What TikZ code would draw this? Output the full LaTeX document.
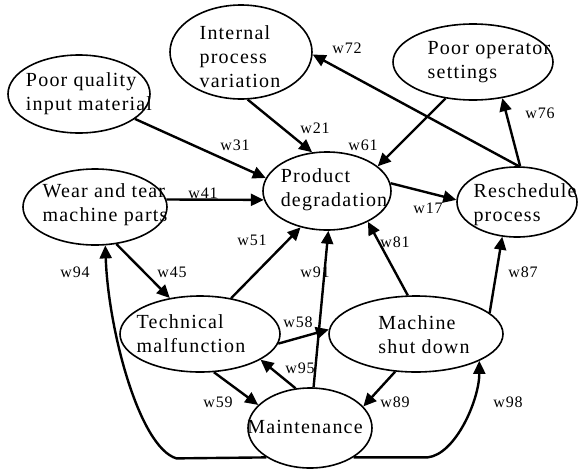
\documentclass[tikz,border=0pt]{standalone}
\usepackage{fontspec}
\setmainfont{Liberation Serif}
\newfontfamily\widefont{Liberation Serif}[LetterSpace=6]
\usepackage{tikz}
\usetikzlibrary{arrows.meta}
\usetikzlibrary{shapes.geometric}

\begin{document}
\begin{tikzpicture}[x=1pt,y=-1pt]
\tikzstyle{blob}=[ellipse, draw, line width=1.6pt, inner sep=0pt]
\tikzstyle{txt}=[align=left, inner sep=0pt, font=\widefont\fontsize{20}{24}\selectfont]
\tikzstyle{wlab}=[inner sep=0pt, font=\widefont\fontsize{16}{18}\selectfont]
\tikzstyle{arr}=[line width=2.4pt, -{Triangle[length=13pt,width=12pt]}]
\useasboundingbox (0,0) rectangle (578,469);

 \node[blob, minimum width=142, minimum height=94] (ipv) at (241,52) {};
 \node[blob, minimum width=142, minimum height=78] (pq) at (79,94) {};
 \node[blob, minimum width=144, minimum height=76] (wt) at (95,207) {};
 \node[blob, minimum width=128, minimum height=78] (pd) at (327,191) {};
 \node[blob, minimum width=160, minimum height=76] (pos) at (473,62) {};
 \node[blob, minimum width=120, minimum height=70] (rp) at (517,202) {};
 \node[blob, minimum width=160, minimum height=76] (tm) at (200,334) {};
 \node[blob, minimum width=174, minimum height=76] (msd) at (416,334) {};
 \node[blob, minimum width=124, minimum height=80] (mt) at (310,428) {};

 \node[txt] (ipv-t) at (240,57) {Internal\\process\\variation};
 \node[txt] (pq-t) at (89,94) {Poor quality\\input material};
 \node[txt] (wt-t) at (105,205) {Wear and tear\\machine parts};
 \node[txt] (pd-t) at (334,190) {Product\\degradation};
 \node[txt] (pos-t) at (489,62) {Poor operator\\settings};
 \node[txt] (rp-t) at (525,205) {Reschedule\\process};
 \node[txt] (tm-t) at (191,334) {Technical\\malfunction};
 \node[txt] (msd-t) at (424,335) {Machine\\shut down};
 \node[txt] (mt-t) at (305,427) {Maintenance};

\draw[arr] (pq.336) -- (pd.168);
\draw[arr] (ipv.278) -- (pd.111);
\draw[arr] (wt.6) -- (pd.188);
\draw[arr] (pos.233) -- (pd.26);
\draw[arr] (rp.87) -- (ipv.358);
\draw[arr] (rp.85) -- (pos.309);
\draw[arr] (pd.7) -- (rp.178);
\draw[arr] (wt.300) -- (tm.130);
\draw[arr] (tm.49) -- (pd.234);
\draw[arr] (mt.85) -- (pd.272);
\draw[arr] (tm.353) -- (msd.177);
\draw[arr] (mt.110) -- (tm.337);
\draw[arr] (tm.290) -- (mt.156);
\draw[arr] (msd.241) -- (mt.22);
\draw[arr] (msd.102) -- (pd.323);
\draw[arr] (msd.16) -- (rp.247);
\draw[arr] (mt.214) -- ++(-90,1) .. controls +(-37,-11) and +(3,85) .. (wt.285);
\draw[arr] (mt.326) -- ++(74,0) .. controls +(28,-3) and +(0,39) .. (msd.337);

\node[wlab] (w31) at (235,145) {w31};
\node[wlab] (w21) at (315,128) {w21};
\node[wlab] (w41) at (203,193) {w41};
\node[wlab] (w61) at (363,145) {w61};
\node[wlab] (w72) at (347,48) {w72};
\node[wlab] (w76) at (540,113) {w76};
\node[wlab] (w17) at (428,208) {w17};
\node[wlab] (w45) at (172,272) {w45};
\node[wlab] (w94) at (75,272) {w94};
\node[wlab] (w51) at (252,240) {w51};
\node[wlab] (w91) at (315,272) {w91};
\node[wlab] (w58) at (298,322) {w58};
\node[wlab] (w95) at (300,368) {w95};
\node[wlab] (w59) at (218,402) {w59};
\node[wlab] (w89) at (395,402) {w89};
\node[wlab] (w81) at (395,242) {w81};
\node[wlab] (w87) at (523,272) {w87};
\node[wlab] (w98) at (508,402) {w98};
\end{tikzpicture}
\end{document}
